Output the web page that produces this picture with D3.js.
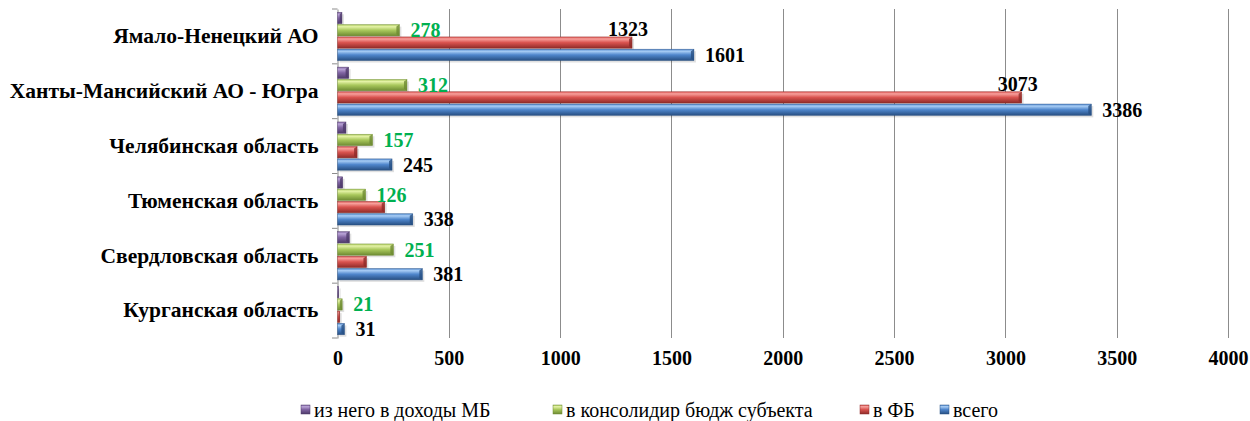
<!DOCTYPE html>
<html><head><meta charset="utf-8">
<script src="https://cdn.jsdelivr.net/npm/d3@7"></script>
</head><body>
<svg id="chart" width="1250" height="421"></svg>
<script>
const categories = ["Ямало-Ненецкий АО","Ханты-Мансийский АО - Югра","Челябинская область","Тюменская область","Свердловская область","Курганская область"];
const seriesNames = ["из него в доходы МБ","в консолидир бюдж субъекта","в ФБ","всего"];
const mbValues = [20, 50, 38, 23, 53, 5];
const consValues = [278, 312, 157, 126, 251, 21];
const fbValues = [1323, 3073, 88, 212, 130, 10];
const totalValues = [1601, 3386, 245, 338, 381, 31];
const fbLabelShown = [true, true, false, false, false, false];
const xTicks = [0, 500, 1000, 1500, 2000, 2500, 3000, 3500, 4000];

d3.select("body").style("margin", "0px");
const FONT = "'Liberation Serif', serif";
const svg = d3.select("#chart").style("display", "block");
const defs = svg.append("defs");

const palettes = [
  {key:"mb", light:"#b9a3d6", mid:"#8064a2", dark:"#4e3a6a"},
  {key:"cons", light:"#e4f2a6", mid:"#a9c85c", dark:"#6d8a32"},
  {key:"fb", light:"#f7a09c", mid:"#d9534f", dark:"#8f2b28"},
  {key:"tot", light:"#a8cdf5", mid:"#4f86cc", dark:"#274f82"}
];
palettes.forEach(p => {
  const g = defs.append("linearGradient").attr("id","g-"+p.key).attr("x1",0).attr("y1",0).attr("x2",0).attr("y2",1);
  g.append("stop").attr("offset","0%").attr("stop-color",p.mid);
  g.append("stop").attr("offset","18%").attr("stop-color",p.light);
  g.append("stop").attr("offset","50%").attr("stop-color",p.mid);
  g.append("stop").attr("offset","100%").attr("stop-color",p.dark);
});

const x = d3.scaleLinear().domain([0, 4000]).range([337.5, 1228]);
const y = d3.scaleBand().domain(categories).range([9, 338]).paddingInner(0.12).paddingOuter(0.06);
const ySub = d3.scaleBand().domain(seriesNames).range([0, y.bandwidth()]).paddingInner(0.08);

function serif(sel, size, bold) {
  return sel.style("font-family", FONT).style("font-size", size + "px").style("font-weight", bold ? "bold" : "normal");
}

// gridlines
svg.append("g").selectAll("line").data(xTicks.slice(1)).join("line")
  .attr("x1", d => Math.round(x(d)) + 0.5).attr("x2", d => Math.round(x(d)) + 0.5)
  .attr("y1", 9).attr("y2", 338).attr("stroke", "#8c8c8c").attr("stroke-width", 1);

// x axis labels
const xAxis = d3.axisBottom(x).tickValues(xTicks).tickSize(0).tickPadding(0).tickFormat(d3.format("d"));
const xg = svg.append("g").attr("transform", "translate(0,351)").call(xAxis);
xg.attr("font-family", null).attr("font-size", null);
xg.select(".domain").remove();
serif(xg.selectAll("text"), 20, true).attr("fill", "#000").attr("dy", "0.71em");

// y axis
const yAxis = d3.axisLeft(y).tickSize(0).tickPadding(19);
const yg = svg.append("g").attr("transform", "translate(337.5,0)").call(yAxis);
yg.attr("font-family", null).attr("font-size", null);
yg.select(".domain").attr("stroke", "#8c8c8c");
serif(yg.selectAll("text"), 21.5, true).attr("fill", "#000");
// category boundary ticks
const bounds = d3.range(categories.length + 1).map(i => 9 + i * (329 / categories.length));
svg.append("g").selectAll("line").data(bounds).join("line")
  .attr("x1", 332).attr("x2", 337.5).attr("y1", d => d).attr("y2", d => d).attr("stroke", "#8c8c8c");

const seriesData = [mbValues, consValues, fbValues, totalValues];
const bars = svg.append("g");
seriesData.forEach((vals, si) => {
  const p = palettes[si];
  const h = ySub.bandwidth();
  categories.forEach((c, ci) => {
    const v = vals[ci];
    const y0 = y(c) + ySub(seriesNames[si]);
    const x0 = x(0), x1 = x(v);
    const g = bars.append("g");
    g.append("rect").attr("x", x0 + 2).attr("y", y0 + 2).attr("width", Math.max(1, x1 - x0)).attr("height", h)
      .attr("fill", "#000").attr("opacity", 0.12);
    g.append("rect").attr("x", x0).attr("y", y0).attr("width", Math.max(1, x1 - x0)).attr("height", h)
      .attr("fill", "url(#g-" + p.key + ")");
    const cap = Math.min(3, (x1 - x0) / 2);
    g.append("path").attr("d", `M${x1 - cap},${y0 + 2}L${x1},${y0}L${x1},${y0 + h}L${x1 - cap},${y0 + h - 2}Z`)
      .attr("fill", p.dark).attr("opacity", 0.8);
    g.append("rect").attr("x", x0).attr("y", y0).attr("width", Math.max(1, x1 - x0)).attr("height", h)
      .attr("fill", "none").attr("stroke", p.dark).attr("stroke-width", 0.6).attr("stroke-opacity", 0.7);
  });
});

// value labels
const labels = svg.append("g");
categories.forEach((c, ci) => {
  const yt = y(c) + ySub(seriesNames[3]) + ySub.bandwidth() / 2;
  serif(labels.append("text"), 20, true).attr("x", x(totalValues[ci]) + 11).attr("y", yt).attr("dy", "0.35em").attr("fill", "#000").text(totalValues[ci]);
  const yc = y(c) + ySub(seriesNames[1]) + ySub.bandwidth() / 2;
  serif(labels.append("text"), 20, true).attr("x", x(consValues[ci]) + 11).attr("y", yc).attr("dy", "0.35em").attr("fill", "#00b050").text(consValues[ci]);
  if (fbLabelShown[ci]) {
    const yf = y(c) + ySub(seriesNames[2]);
    serif(labels.append("text"), 20, true).attr("x", x(fbValues[ci]) - 4).attr("y", yf - 1).attr("text-anchor", "middle").attr("fill", "#000").text(fbValues[ci]);
  }
});

// legend
const legendX = [301, 553, 860, 940];
const lg = svg.append("g");
seriesNames.forEach((s, i) => {
  const p = palettes[i];
  lg.append("rect").attr("x", legendX[i]).attr("y", 405).attr("width", 9).attr("height", 9)
    .attr("fill", "url(#g-" + p.key + ")").attr("stroke", p.dark).attr("stroke-width", 0.5);
  serif(lg.append("text"), 20, false).attr("x", legendX[i] + 13).attr("y", 410).attr("dy", "0.35em").attr("fill", "#000").text(s);
});
</script></body></html>
